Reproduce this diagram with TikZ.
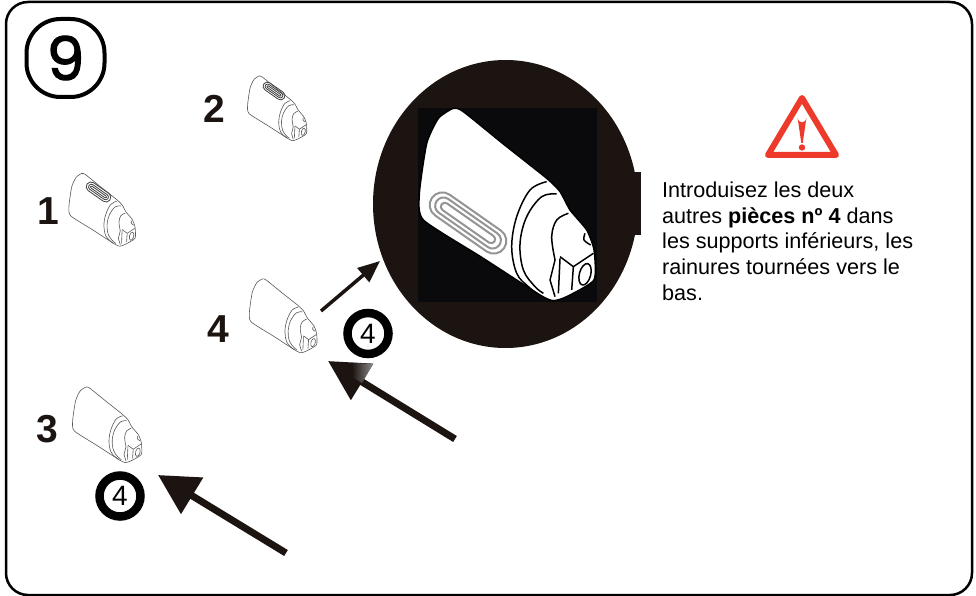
\documentclass[tikz,border=0pt]{standalone}
\usepackage{fontspec}
\setmainfont{Liberation Sans}
\newfontfamily\badgefont[FakeBold=2]{Poppins}
\usetikzlibrary{arrows.meta}

\definecolor{inkdark}{HTML}{1C1410}
\definecolor{inkblack}{HTML}{0A0A0C}
\definecolor{warnred}{HTML}{EE3A2A}

\tikzset{
  piece line/.style={draw=black!65,line width=0.6pt},
  pics/piece/.style={code={
    \path[piece line,fill=white] plot[smooth cycle,tension=0.35] coordinates {(-160,-290) (-130,-280) (-10,-183) (120,-80) (160,-40) (190,15) (240,75) (262,135) (262,225) (180,275) (140,287) (100,270) (-75,157) (-250,45) (-262,-35) (-240,-185) (-205,-260)};
    \path[piece line] plot[smooth,tension=0.6] coordinates {(120,-70) (70,-45) (30,35) (15,125) (30,205) (65,245) (90,265)};
    \path[piece line] plot[smooth,tension=0.6] coordinates {(150,-33) (105,-25) (60,35) (40,115) (50,195) (85,245) (110,265)};
    \path[piece line] plot[smooth,tension=0.6] coordinates {(185,25) (150,45) (135,95) (145,165)};
    \path[piece line] (145,165) -- (130,225) -- (145,275);
    \path[piece line] (160,155) -- (200,185) -- (260,145);
    \path[piece line] (160,160) -- (155,265);
    \path[piece line] (200,185) -- (195,255);
    \path[piece line,rotate around={-15:(235,208)}] (235,208) ellipse [x radius=17,y radius=33];
    \path[piece line] plot[smooth,tension=0.6] coordinates {(235,85) (232,105) (252,120)};
  }},
  pics/groove/.style n args={3}{code={
    \begin{scope}[rotate=-35]
      \foreach \gx/\gy in {#1}
        \draw[#2,line width=#3] (-\gx,-\gy) -- (\gx,-\gy) arc[start angle=-90,end angle=90,radius=\gy] -- (-\gx,\gy) arc[start angle=90,end angle=270,radius=\gy] -- cycle;
    \end{scope}
  }},
  numlabel/.style={font=\fontsize{39}{39}\selectfont\bfseries,inner sep=0pt,text=inkdark},
  partbadge/.style={draw,circle,line width=8.5pt,minimum size=41pt,inner sep=0pt,font=\fontsize{28}{28}\selectfont},
  bigarrow/.style={inkdark,line width=7pt,-{Triangle[length=40pt,width=41pt]}},
  thinarrow/.style={inkdark,line width=3.5pt,-{Triangle[length=22pt,width=18pt]}},
}

\begin{document}
\begin{tikzpicture}[x=1pt,y=-1pt]
  \useasboundingbox (0,0) rectangle (976,596);
  \draw[line width=2.5pt,rounded corners=22pt] (6,2) rectangle (972,595);

  \node[draw,line width=4pt,rounded corners=34pt,minimum size=78pt,inner sep=0pt,font=\badgefont\fontsize{60}{60}\selectfont] (step9) at (65.5,58) {9};

  % the enlarged view
  \fill[inkdark] (505.5,204) ellipse [x radius=132.5,y radius=144];
  \fill[inkblack] (418,108) rectangle (597,302);
  \fill[inkdark] (630,172) rectangle (641,235);
  \pic[scale=0.3333,piece line/.style={draw=black,line width=1.5pt}] at (506.7,205) {piece};
  \pic[scale=0.3333] at (468,223) {groove={94/38,90/25,85/12}{black!42}{2pt}};

  % the four pieces
  \pic[scale=0.126] (part1) at (102,210) {piece};
  \pic[scale=0.126] at (98.5,192) {groove={73/38,70/22,68/8}{black!75}{0.8pt}};
  \pic[scale=0.112] (part2) at (277,108.5) {piece};
  \pic[scale=0.112] at (274,91) {groove={73/38,70/22,68/8}{black!75}{0.8pt}};
  \pic[scale=0.131] (part3) at (107,425) {piece};
  \pic[scale=0.128] (part4) at (283,316) {piece};

  \node[numlabel] (n1) at (48,211) {1};
  \node[numlabel] (n2) at (214,109) {2};
  \node[numlabel] (n3) at (47,429) {3};
  \node[numlabel] (n4) at (218,329) {4};

  \node[partbadge] (b1) at (368,333.5) {4};
  \node[partbadge] (b2) at (120,496) {4};

  \coordinate (a0) at (321,311);
  \coordinate (a1) at (380,261);
  \coordinate (c0) at (455,439);
  \coordinate (c1) at (328,361);
  \coordinate (d0) at (286,553);
  \coordinate (d1) at (158,475);
  \draw[thinarrow] (a0) -- (a1);
  \draw[bigarrow] (c0) -- (c1);
  \draw[bigarrow] (d0) -- (d1);
  \shade[left color=inkdark,right color=black!45] (352,362.8) -- (373,364) -- (362,383) -- (352,377) -- cycle;

  % warning sign
  \draw[warnred,line width=6pt,line join=round,fill=white] (802,98) -- (768,155) -- (836,155) -- cycle;
  \fill[warnred] (797.6,118) arc[start angle=180,end angle=0,radius=4.4] -- (802.7,143) -- (801.3,143) -- cycle;
  \fill[warnred] (802,147.5) circle (3.2);

  \node[anchor=north west,inner sep=0pt,align=left,font=\fontsize{21.6}{25.8}\selectfont] (note) at (662,181.5) {Introduisez les deux\\autres \textbf{pièces nº 4} dans\\les supports inférieurs, les\\rainures tournées vers le\\bas.};
\end{tikzpicture}
\end{document}
